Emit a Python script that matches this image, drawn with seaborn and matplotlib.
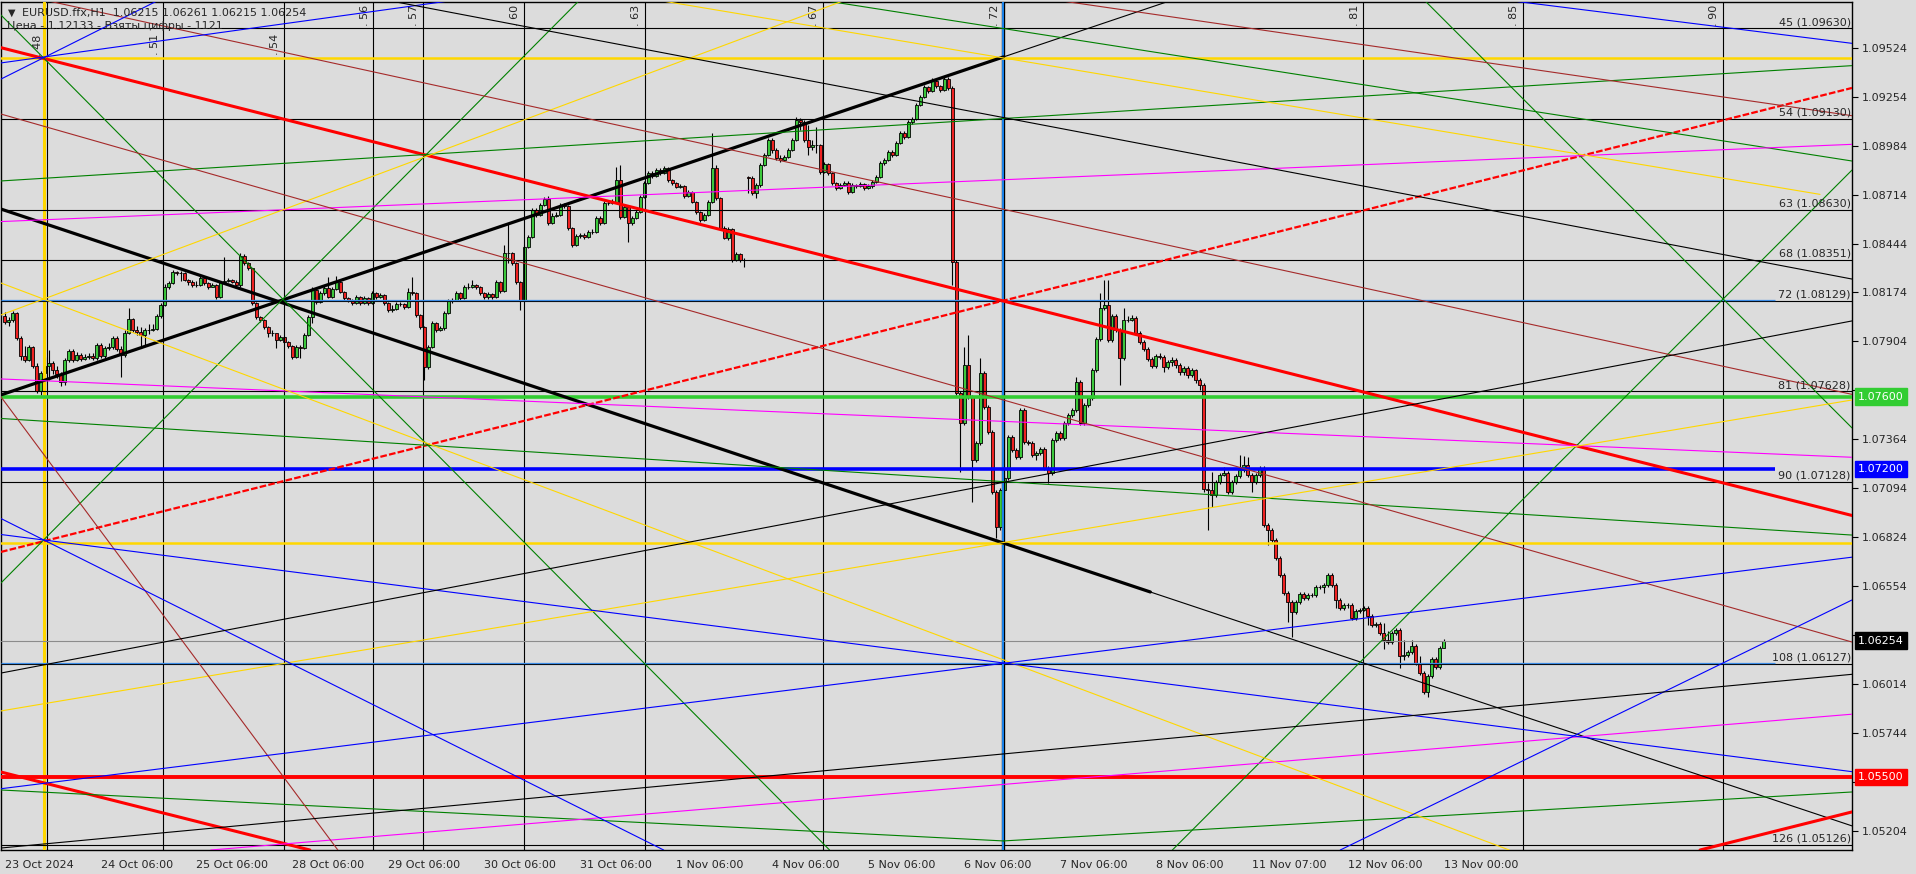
import numpy as np
import pandas as pd
import matplotlib.pyplot as plt
import seaborn as sns

# EURUSD.ffx H1 candles, bar 0 = 23 Oct 2024 06:00, bar 360 = 13 Nov 00:00
first_open = 1.08044
weekend_open = {186: 1.08811}

close = [
    1.08011, 1.08022, 1.08061, 1.07923, 1.07824, 1.07802, 1.07873, 1.07769, 1.07631, 1.07730,
    1.07769, 1.07785, 1.07746, 1.07724, 1.07680, 1.07802, 1.07851, 1.07802, 1.07829, 1.07807,
    1.07818, 1.07824, 1.07813, 1.07884, 1.07824, 1.07868, 1.07873, 1.07923, 1.07862, 1.07829,
    1.07951, 1.08028, 1.07967, 1.07956, 1.07940, 1.07967, 1.07967, 1.07973, 1.08044, 1.08105,
    1.08204, 1.08226, 1.08287, 1.08281, 1.08281, 1.08243, 1.08232, 1.08215, 1.08215, 1.08254,
    1.08226, 1.08204, 1.08215, 1.08149, 1.08232, 1.08237, 1.08243, 1.08232, 1.08215, 1.08375,
    1.08337, 1.08309, 1.08116, 1.08039, 1.08022, 1.07984, 1.07951, 1.07951, 1.07912, 1.07928,
    1.07901, 1.07879, 1.07818, 1.07873, 1.07868, 1.07940, 1.08039, 1.08188, 1.08121, 1.08171,
    1.08199, 1.08149, 1.08193, 1.08232, 1.08177, 1.08144, 1.08133, 1.08116, 1.08149, 1.08116,
    1.08144, 1.08116, 1.08171, 1.08149, 1.08160, 1.08116, 1.08077, 1.08083, 1.08110, 1.08110,
    1.08094, 1.08177, 1.08171, 1.08050, 1.07984, 1.07763, 1.07873, 1.08006, 1.07967, 1.07978,
    1.08061, 1.08127, 1.08133, 1.08171, 1.08144, 1.08204, 1.08204, 1.08215, 1.08204, 1.08171,
    1.08149, 1.08166, 1.08149, 1.08232, 1.08182, 1.08392, 1.08392, 1.08337, 1.08232, 1.08133,
    1.08425, 1.08480, 1.08629, 1.08601, 1.08656, 1.08690, 1.08557, 1.08596, 1.08601, 1.08656,
    1.08651, 1.08530, 1.08436, 1.08486, 1.08491, 1.08480, 1.08508, 1.08508, 1.08585, 1.08557,
    1.08668, 1.08668, 1.08673, 1.08794, 1.08590, 1.08645, 1.08557, 1.08585, 1.08618, 1.08701,
    1.08778, 1.08833, 1.08816, 1.08849, 1.08833, 1.08861, 1.08794, 1.08778, 1.08756, 1.08761,
    1.08706, 1.08728, 1.08673, 1.08618, 1.08574, 1.08601, 1.08673, 1.08861, 1.08695, 1.08530,
    1.08474, 1.08524, 1.08353, 1.08386, 1.08353, 1.08353, 1.08805, 1.08723, 1.08767, 1.08877,
    1.08932, 1.09015, 1.08960, 1.08916, 1.08905, 1.08921, 1.08960, 1.09015, 1.09125, 1.09114,
    1.09015, 1.08976, 1.08987, 1.08987, 1.08838, 1.08883, 1.08833, 1.08778, 1.08750, 1.08767,
    1.08778, 1.08728, 1.08767, 1.08761, 1.08772, 1.08750, 1.08761, 1.08783, 1.08811, 1.08888,
    1.08905, 1.08949, 1.08932, 1.08998, 1.09054, 1.09031, 1.09114, 1.09131, 1.09208, 1.09252,
    1.09307, 1.09285, 1.09340, 1.09313, 1.09291, 1.09351, 1.09302, 1.08342, 1.07620, 1.07454,
    1.07774, 1.07598, 1.07250, 1.07344, 1.07730, 1.07542, 1.07405, 1.07074, 1.06881, 1.07085,
    1.07151, 1.07377, 1.07305, 1.07267, 1.07526, 1.07349, 1.07344, 1.07278, 1.07289, 1.07311,
    1.07206, 1.07178, 1.07360, 1.07399, 1.07371, 1.07454, 1.07498, 1.07526, 1.07680, 1.07454,
    1.07553, 1.07592, 1.07746, 1.07917, 1.08088, 1.08105, 1.07912, 1.08044, 1.07967, 1.07813,
    1.08022, 1.08022, 1.08033, 1.07951, 1.07901, 1.07862, 1.07807, 1.07769, 1.07824, 1.07818,
    1.07763, 1.07791, 1.07802, 1.07774, 1.07735, 1.07758, 1.07719, 1.07746, 1.07691, 1.07664,
    1.07090, 1.07085, 1.07057, 1.07129, 1.07167, 1.07178, 1.07074, 1.07129, 1.07162, 1.07195,
    1.07223, 1.07167, 1.07129, 1.07167, 1.07206, 1.06892, 1.06864, 1.06809, 1.06710, 1.06616,
    1.06517, 1.06467, 1.06412, 1.06467, 1.06511, 1.06489, 1.06506, 1.06506, 1.06550, 1.06550,
    1.06561, 1.06616, 1.06561, 1.06478, 1.06434, 1.06450, 1.06450, 1.06379, 1.06417, 1.06423,
    1.06434, 1.06390, 1.06340, 1.06346, 1.06296, 1.06257, 1.06246, 1.06296, 1.06313, 1.06169,
    1.06175, 1.06191, 1.06224, 1.06131, 1.06075, 1.05971, 1.06059, 1.06153, 1.06109, 1.06215,
    1.06254,
]

high = [
    1.08066, 1.08039, 1.08072, 1.08066, 1.07934, 1.07879, 1.07884, 1.07879, 1.07785, 1.07741,
    1.07818, 1.07857, 1.07796, 1.07769, 1.07735, 1.07813, 1.07862, 1.07862, 1.07846, 1.07840,
    1.07835, 1.07840, 1.07840, 1.07895, 1.07895, 1.07879, 1.07895, 1.07934, 1.07934, 1.07879,
    1.07967, 1.08088, 1.08033, 1.07989, 1.07984, 1.07978, 1.08000, 1.08000, 1.08055, 1.08116,
    1.08221, 1.08237, 1.08298, 1.08292, 1.08292, 1.08287, 1.08248, 1.08243, 1.08237, 1.08265,
    1.08254, 1.08232, 1.08226, 1.08221, 1.08237, 1.08370, 1.08254, 1.08248, 1.08243, 1.08392,
    1.08386, 1.08342, 1.08309, 1.08121, 1.08044, 1.08028, 1.07989, 1.07967, 1.07940, 1.07940,
    1.07934, 1.07906, 1.07884, 1.07884, 1.07884, 1.07951, 1.08050, 1.08204, 1.08188, 1.08182,
    1.08210, 1.08259, 1.08204, 1.08265, 1.08237, 1.08182, 1.08149, 1.08138, 1.08160, 1.08155,
    1.08155, 1.08149, 1.08182, 1.08177, 1.08171, 1.08166, 1.08121, 1.08105, 1.08121, 1.08121,
    1.08116, 1.08199, 1.08259, 1.08177, 1.08055, 1.07989, 1.07884, 1.08017, 1.08011, 1.07989,
    1.08072, 1.08138, 1.08144, 1.08182, 1.08177, 1.08215, 1.08226, 1.08243, 1.08221, 1.08210,
    1.08177, 1.08177, 1.08171, 1.08243, 1.08237, 1.08436, 1.08557, 1.08397, 1.08342, 1.08237,
    1.08436, 1.08491, 1.08640, 1.08640, 1.08668, 1.08701, 1.08706, 1.08612, 1.08618, 1.08668,
    1.08668, 1.08656, 1.08535, 1.08496, 1.08502, 1.08502, 1.08519, 1.08524, 1.08596, 1.08596,
    1.08679, 1.08684, 1.08690, 1.08866, 1.08877, 1.08656, 1.08651, 1.08596, 1.08629, 1.08712,
    1.08789, 1.08844, 1.08844, 1.08861, 1.08861, 1.08872, 1.08866, 1.08800, 1.08783, 1.08772,
    1.08767, 1.08739, 1.08734, 1.08679, 1.08623, 1.08612, 1.08684, 1.09054, 1.08877, 1.08701,
    1.08541, 1.08535, 1.08530, 1.08397, 1.08392, 1.08364, 1.08816, 1.08816, 1.08778, 1.08888,
    1.08943, 1.09026, 1.09026, 1.08971, 1.08932, 1.08932, 1.08971, 1.09026, 1.09142, 1.09136,
    1.09125, 1.09098, 1.09015, 1.09087, 1.08993, 1.08894, 1.08888, 1.08838, 1.08783, 1.08778,
    1.08789, 1.08789, 1.08778, 1.08772, 1.08783, 1.08778, 1.08772, 1.08794, 1.08822, 1.08899,
    1.08916, 1.08960, 1.08960, 1.09009, 1.09065, 1.09065, 1.09125, 1.09142, 1.09219, 1.09263,
    1.09318, 1.09313, 1.09357, 1.09346, 1.09318, 1.09368, 1.09362, 1.09313, 1.08353, 1.07631,
    1.07873, 1.07940, 1.07609, 1.07355, 1.07813, 1.07741, 1.07553, 1.07416, 1.07085, 1.07096,
    1.07162, 1.07388, 1.07388, 1.07316, 1.07537, 1.07537, 1.07360, 1.07355, 1.07300, 1.07322,
    1.07322, 1.07217, 1.07371, 1.07410, 1.07410, 1.07465, 1.07509, 1.07537, 1.07708, 1.07691,
    1.07564, 1.07603, 1.07758, 1.07928, 1.08171, 1.08243, 1.08243, 1.08055, 1.08055, 1.07978,
    1.08088, 1.08044, 1.08050, 1.08044, 1.07962, 1.07912, 1.07873, 1.07818, 1.07835, 1.07840,
    1.07829, 1.07802, 1.07818, 1.07813, 1.07785, 1.07769, 1.07769, 1.07758, 1.07752, 1.07702,
    1.07675, 1.07123, 1.07184, 1.07140, 1.07178, 1.07212, 1.07189, 1.07140, 1.07173, 1.07278,
    1.07272, 1.07267, 1.07178, 1.07178, 1.07217, 1.07217, 1.06903, 1.06875, 1.06820, 1.06723,
    1.06627, 1.06528, 1.06478, 1.06478, 1.06522, 1.06522, 1.06517, 1.06517, 1.06561, 1.06561,
    1.06572, 1.06627, 1.06627, 1.06572, 1.06489, 1.06462, 1.06462, 1.06462, 1.06428, 1.06434,
    1.06445, 1.06445, 1.06401, 1.06357, 1.06357, 1.06351, 1.06307, 1.06307, 1.06324, 1.06324,
    1.06257, 1.06202, 1.06257, 1.06235, 1.06169, 1.06087, 1.06070, 1.06164, 1.06164, 1.06224,
    1.06261,
]

low = [
    1.08000, 1.07989, 1.08011, 1.07912, 1.07802, 1.07791, 1.07796, 1.07758, 1.07620, 1.07609,
    1.07636, 1.07691, 1.07724, 1.07702, 1.07658, 1.07664, 1.07791, 1.07791, 1.07796, 1.07796,
    1.07802, 1.07807, 1.07802, 1.07802, 1.07813, 1.07813, 1.07857, 1.07862, 1.07851, 1.07708,
    1.07818, 1.07945, 1.07956, 1.07940, 1.07868, 1.07884, 1.07945, 1.07962, 1.07967, 1.08033,
    1.08099, 1.08193, 1.08221, 1.08270, 1.08237, 1.08237, 1.08215, 1.08204, 1.08204, 1.08210,
    1.08215, 1.08193, 1.08204, 1.08138, 1.08144, 1.08226, 1.08232, 1.08226, 1.08210, 1.08204,
    1.08326, 1.08298, 1.08105, 1.08028, 1.08011, 1.07973, 1.07928, 1.07934, 1.07868, 1.07906,
    1.07895, 1.07868, 1.07807, 1.07813, 1.07813, 1.07862, 1.07934, 1.08006, 1.08110, 1.08116,
    1.08160, 1.08144, 1.08144, 1.08188, 1.08171, 1.08133, 1.08121, 1.08105, 1.08110, 1.08105,
    1.08110, 1.08105, 1.08110, 1.08138, 1.08144, 1.08105, 1.08066, 1.08066, 1.08077, 1.08099,
    1.08083, 1.08088, 1.08160, 1.08039, 1.07973, 1.07691, 1.07752, 1.07868, 1.07956, 1.07962,
    1.07967, 1.08055, 1.08116, 1.08127, 1.08133, 1.08138, 1.08193, 1.08199, 1.08193, 1.08160,
    1.08138, 1.08138, 1.08138, 1.08144, 1.08171, 1.08177, 1.08337, 1.08326, 1.08221, 1.08077,
    1.08127, 1.08419, 1.08474, 1.08590, 1.08596, 1.08651, 1.08546, 1.08552, 1.08590, 1.08596,
    1.08640, 1.08519, 1.08425, 1.08430, 1.08474, 1.08469, 1.08474, 1.08496, 1.08502, 1.08546,
    1.08552, 1.08656, 1.08662, 1.08668, 1.08579, 1.08585, 1.08452, 1.08546, 1.08579, 1.08612,
    1.08695, 1.08772, 1.08805, 1.08811, 1.08822, 1.08827, 1.08783, 1.08767, 1.08750, 1.08750,
    1.08695, 1.08701, 1.08668, 1.08607, 1.08563, 1.08568, 1.08596, 1.08668, 1.08684, 1.08519,
    1.08469, 1.08463, 1.08342, 1.08348, 1.08342, 1.08315, 1.08723, 1.08712, 1.08695, 1.08756,
    1.08872, 1.08927, 1.08943, 1.08905, 1.08894, 1.08899, 1.08916, 1.08954, 1.09009, 1.09070,
    1.09004, 1.08932, 1.08960, 1.08943, 1.08827, 1.08833, 1.08822, 1.08767, 1.08739, 1.08745,
    1.08761, 1.08717, 1.08723, 1.08750, 1.08756, 1.08739, 1.08745, 1.08750, 1.08778, 1.08805,
    1.08877, 1.08899, 1.08921, 1.08927, 1.08993, 1.09020, 1.09026, 1.09103, 1.09125, 1.09202,
    1.09247, 1.09274, 1.09280, 1.09302, 1.09280, 1.09285, 1.09291, 1.08215, 1.07609, 1.07184,
    1.07443, 1.07587, 1.07019, 1.07239, 1.07333, 1.07531, 1.07394, 1.07063, 1.06820, 1.06864,
    1.07074, 1.07140, 1.07294, 1.07256, 1.07256, 1.07338, 1.07333, 1.07267, 1.07250, 1.07278,
    1.07195, 1.07123, 1.07167, 1.07349, 1.07360, 1.07360, 1.07443, 1.07487, 1.07515, 1.07443,
    1.07443, 1.07542, 1.07581, 1.07735, 1.07906, 1.08077, 1.07901, 1.07901, 1.07956, 1.07664,
    1.07802, 1.08011, 1.08017, 1.07940, 1.07890, 1.07851, 1.07796, 1.07758, 1.07758, 1.07807,
    1.07735, 1.07752, 1.07769, 1.07758, 1.07719, 1.07719, 1.07702, 1.07708, 1.07675, 1.07636,
    1.07074, 1.06864, 1.06991, 1.07046, 1.07118, 1.07162, 1.07063, 1.07063, 1.07118, 1.07151,
    1.07184, 1.07156, 1.07074, 1.07118, 1.07156, 1.06881, 1.06781, 1.06798, 1.06699, 1.06605,
    1.06506, 1.06357, 1.06274, 1.06401, 1.06456, 1.06478, 1.06478, 1.06495, 1.06495, 1.06539,
    1.06517, 1.06550, 1.06550, 1.06434, 1.06423, 1.06423, 1.06434, 1.06368, 1.06368, 1.06406,
    1.06417, 1.06340, 1.06329, 1.06329, 1.06285, 1.06208, 1.06235, 1.06235, 1.06285, 1.06103,
    1.06147, 1.06164, 1.06180, 1.06120, 1.06064, 1.05960, 1.05943, 1.06048, 1.06098, 1.06098,
    1.06215,
]

time_ticks = [0, 24, 48, 72, 96, 120, 144, 168, 192, 216, 240, 264, 288, 312, 336, 360]
time_labels = ['23 Oct 2024', '24 Oct 06:00', '25 Oct 06:00', '28 Oct 06:00', '29 Oct 06:00',
               '30 Oct 06:00', '31 Oct 06:00', '1 Nov 06:00', '4 Nov 06:00', '5 Nov 06:00',
               '6 Nov 06:00', '7 Nov 06:00', '8 Nov 06:00', '11 Nov 07:00', '12 Nov 06:00',
               '13 Nov 00:00']

price_ticks = [1.09524, 1.09254, 1.08984, 1.08714, 1.08444, 1.08174, 1.07904, 1.07634, 1.07364,
               1.07094, 1.06824, 1.06554, 1.06284, 1.06014, 1.05744, 1.05474, 1.05204]
hidden_ticks = [1.07634, 1.06284, 1.05474]   # covered by the coloured price boxes

# numbered price levels (black lines with captions)
level_prices = [1.09630, 1.09130, 1.08630, 1.08351, 1.08129, 1.07628, 1.07128, 1.06127, 1.05126]
level_names = ['45', '54', '63', '68', '72', '81', '90', '108', '126']

# highlighted price levels
band_prices = {'yellow_top': 1.09469, 'green': 1.07600, 'blue': 1.07200,
               'yellow_low': 1.06794, 'red': 1.05500}
bid_price = 1.06254

# vertical time lines (bar index) and their captions
vline_bars = [10.6, 39.7, 69.85, 92.2, 104.6, 129.85, 160.1, 204.6, 249.85, 339.85, 379.8, 429.85]
vline_names = ['48', '51', '54', '56', '57', '60', '63', '67', '72', '81', '85', '90']
yellow_vline_bar = 9.8

# drawn trend lines: (bar0, price0, bar1, price1)
trend_lines = {
    'black_up_thick': (-0.9, 1.07609, 249.85, 1.09473),
    'black_up_thin': (249.85, 1.09473, 292.1, 1.09787),
    'black_dn_thick': (-0.9, 1.08634, 286.6, 1.06522),
    'black_dn_thin': (286.6, 1.06522, 462.1, 1.05232),
    'red_dn_thick': (-0.9, 1.09524, 462.1, 1.06944),
    'red_up_dash': (-0.9, 1.06743, 462.1, 1.09302),
    'red_up_low': (424.1, 1.05099, 462.1, 1.05309),
    'red_dn_low': (-0.9, 1.05529, 76.35, 1.05099),
    'green_a': (-0.9, 1.09704, 206.35, 1.05099),
    'green_b': (-0.9, 1.06572, 143.85, 1.09787),
    'green_c': (355.1, 1.09787, 462.1, 1.07427),
    'green_d': (292.1, 1.05099, 462.1, 1.08849),
    'green_e': (-0.9, 1.08789, 462.1, 1.09425),
    'green_f': (204.1, 1.09787, 462.1, 1.08899),
    'green_g': (-0.9, 1.07479, 462.1, 1.06836),
    'green_h': (249.85, 1.05149, 462.1, 1.05419),
    'green_i': (-0.9, 1.05430, 249.85, 1.05149),
    'magenta_a': (-0.9, 1.08565, 462.1, 1.08991),
    'magenta_b': (-0.9, 1.07697, 462.1, 1.07265),
    'magenta_c': (51.6, 1.05099, 462.1, 1.05848),
    'yellow_a': (-0.9, 1.08050, 210.35, 1.09787),
    'yellow_b': (-0.9, 1.08226, 376.35, 1.05099),
    'yellow_c': (-0.9, 1.05866, 462.1, 1.07581),
    'yellow_d': (163.1, 1.09787, 454.1, 1.08715),
    'brown_a': (262.85, 1.09787, 462.1, 1.09149),
    'brown_b': (9.85, 1.09787, 462.1, 1.07612),
    'brown_c': (-0.9, 1.09158, 462.1, 1.06246),
    'brown_d': (-0.9, 1.07598, 83.35, 1.05099),
    'blue_a': (-0.9, 1.09351, 38.6, 1.09787),
    'blue_b': (-0.9, 1.09440, 112.85, 1.09787),
    'blue_c': (375.35, 1.09787, 462.1, 1.09548),
    'blue_d': (-0.9, 1.06839, 462.1, 1.05531),
    'blue_e': (-0.9, 1.05437, 462.1, 1.06714),
    'blue_f': (334.1, 1.05099, 462.1, 1.06478),
    'blue_g': (-0.9, 1.06927, 164.85, 1.05099),
    'black_a': (-0.9, 1.06075, 462.1, 1.08017),
    'black_b': (-0.9, 1.05110, 462.1, 1.06068),
    'black_c': (95.35, 1.09787, 462.1, 1.08248),
}

# ---- styles ----
BG = '#dcdcdc'
colour_of = {'black': 'black', 'red': '#ff0000', 'green': '#008000', 'magenta': '#ff00ff',
             'yellow': '#ffd700', 'brown': '#a52a2a', 'blue': '#0000ff'}
thick = {'black_up_thick': 2.3, 'black_dn_thick': 2.3, 'red_dn_thick': 2.2,
         'red_up_low': 2.2, 'red_dn_low': 2.2, 'red_up_dash': 1.6}

sns.set_style('white', {'axes.facecolor': BG, 'figure.facecolor': BG,
                        'axes.edgecolor': 'black'})
plt.rcParams['font.family'] = ['DejaVu Sans']
FS = 8

fig = plt.figure(figsize=(19.16, 8.74), dpi=100)
ax = fig.add_axes([1 / 1916, 24 / 874, 1851 / 1916, 848 / 874])
ax.set_facecolor(BG)

# candles
opens = [first_open] + close[:-1]
for k, v in weekend_open.items():
    opens[k] = v
df = pd.DataFrame({'bar': np.arange(len(close)), 'open': opens, 'high': high,
                   'low': low, 'close': close})
df['bottom'] = df[['open', 'close']].min(axis=1)
df['body'] = (df['close'] - df['open']).abs()
up = df['close'] >= df['open']
ax.vlines(df['bar'], df['low'], df['high'], color='black', lw=0.8, zorder=2)
ax.bar(df['bar'][up], df['body'][up], bottom=df['bottom'][up], width=0.75,
       color='#3cc83c', edgecolor='black', linewidth=0.6, zorder=2.2)
ax.bar(df['bar'][~up], df['body'][~up], bottom=df['bottom'][~up], width=0.75,
       color='#ee2222', edgecolor='black', linewidth=0.6, zorder=2.2)

# vertical time lines
ax.axvline(yellow_vline_bar, color='#ffd700', lw=2.2, zorder=3)
for b in vline_bars:
    ax.axvline(b, color='black', lw=0.8, zorder=3)
ax.axvline(vline_bars[8], color='black', lw=2.4, zorder=3)
ax.axvline(vline_bars[8], color='#1e90ff', lw=1.3, zorder=3.1)
for i, (b, name) in enumerate(zip(vline_bars, vline_names)):
    # the first captions sit under the chart header so they stay readable
    y_top = 0.962 if i < 3 else 0.997
    ax.text(b - 0.9, y_top, '. ' + name, rotation=90, ha='right', va='top', fontsize=FS,
            transform=ax.get_xaxis_transform(), zorder=6)

# horizontal levels
for p, name in zip(level_prices, level_names):
    ax.axhline(p, color='black', lw=0.8, zorder=3)
    ax.annotate(f'{name} ({p:.5f})', xy=(461.8, p), xytext=(0, 1), textcoords='offset points',
                ha='right', va='bottom', fontsize=FS, zorder=6)
for p in (level_prices[4], level_prices[7]):
    ax.hlines(p + 0.00005, -0.9, 442.8, color='#3c8ce6', lw=0.9, zorder=3)
ax.axhline(band_prices['yellow_top'], color='#ffd700', lw=1.8, zorder=3.2)
ax.axhline(band_prices['yellow_low'], color='#ffd700', lw=1.8, zorder=3.2)
ax.axhline(band_prices['green'], color='#32cd32', lw=2.6, zorder=3.2)
ax.hlines(band_prices['blue'], -0.9, 442.8, color='#0000ff', lw=2.6, zorder=3.2)
ax.axhline(band_prices['red'], color='#ff0000', lw=2.8, zorder=3.2)
ax.axhline(bid_price, color='#8c8c8c', lw=0.8, zorder=3)

# trend lines
for name, (b0, p0, b1, p1) in trend_lines.items():
    col = colour_of[name.split('_')[0]]
    ls = (0, (3, 1)) if name == 'red_up_dash' else '-'
    sns.lineplot(x=[b0, b1], y=[p0, p1], color=col, lw=thick.get(name, 0.8),
                 linestyle=ls, ax=ax, zorder=4)

ax.set_xlim(-0.9, 462.1)
ax.set_ylim(1.05099, 1.09776)
ax.set_xlabel('')
ax.set_ylabel('')

# axes / ticks in MT4 style
ax.yaxis.tick_right()
ax.set_yticks(price_ticks)
ax.set_yticklabels(['' if v in hidden_ticks else f'{v:.5f}' for v in price_ticks])
ax.set_xticks(time_ticks)
ax.set_xticklabels(time_labels, ha='left')
ax.tick_params(axis='both', direction='out', length=4, width=0.8, color='black',
               labelsize=FS, pad=3)
for s in ax.spines.values():
    s.set_color('black')
    s.set_linewidth(1.0)

# coloured price boxes on the scale
box_colours = {'green': '#32cd32', 'blue': '#0000ff', 'red': '#ff0000'}
for key, col in box_colours.items():
    ax.annotate(f'{band_prices[key]:.5f}', xy=(1, band_prices[key]),
                xycoords=('axes fraction', 'data'), xytext=(4.3, 0), textcoords='offset points',
                ha='left', va='center', fontsize=FS, color='white', zorder=10,
                bbox=dict(boxstyle='square,pad=0.28', fc=col, ec=col), annotation_clip=False)
ax.annotate(f'{bid_price:.5f}', xy=(1, bid_price), xycoords=('axes fraction', 'data'),
            xytext=(4.3, 0), textcoords='offset points', ha='left', va='center', fontsize=FS,
            color='white', zorder=10, bbox=dict(boxstyle='square,pad=0.28', fc='black', ec='black'),
            annotation_clip=False)

# header
fig.text(8 / 1916, 1 - 13 / 874, '\u25bc', fontsize=7, va='center', ha='left')
fig.text(22 / 1916, 1 - 13 / 874, 'EURUSD.ffx,H1  1.06215 1.06261 1.06215 1.06254',
         fontsize=FS, va='center', ha='left')
fig.text(7 / 1916, 1 - 26 / 874, 'Цена - 1.12133 - Взяты цифры - 1121',
         fontsize=FS, va='center', ha='left')

fig.savefig('out.png', dpi=100, facecolor=BG)
